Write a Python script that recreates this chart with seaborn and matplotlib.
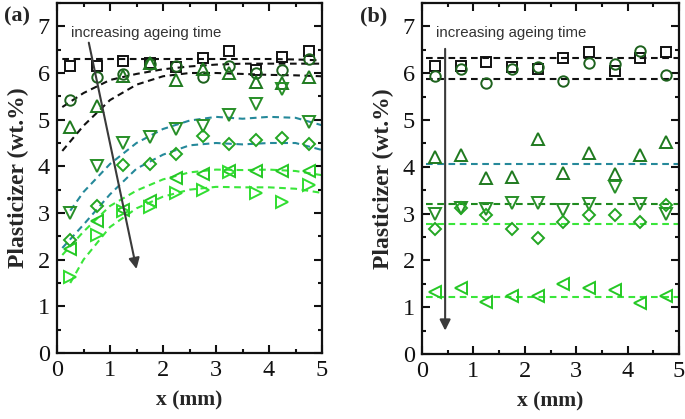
import numpy as np
import pandas as pd
import matplotlib
matplotlib.use("Agg")
import matplotlib.pyplot as plt
from matplotlib.ticker import MultipleLocator
import seaborn as sns

sns.set_theme(style="ticks")
plt.rcParams['font.family'] = ['Liberation Serif', 'DejaVu Serif']
plt.rcParams['mathtext.fontset'] = 'stix'

# ---------------- data ----------------
x_pts = [0.25, 0.75, 1.25, 1.75, 2.25, 2.75, 3.25, 3.75, 4.25, 4.75]

# panel (a)
a_square = [6.16, 6.15, 6.26, 6.21, 6.13, 6.32, 6.47, 6.06, 6.34, 6.47]
a_circle = [5.43, 5.91, 5.97, 6.20, 6.15, 5.91, 6.14, 6.00, 6.06, 6.31]
a_up     = [4.84, 5.29, 5.93, 6.21, 5.84, 6.09, 5.99, 5.81, 5.78, 5.91]
a_down   = [3.00, 4.00, 4.49, 4.63, 4.79, 4.86, 5.09, 5.34, 5.65, 4.95]
a_diam   = [2.42, 3.15, 4.02, 4.06, 4.27, 4.66, 4.47, 4.57, 4.61, 4.47]
a_left   = [2.23, 2.83, 3.06, 3.26, 3.74, 3.84, 3.90, 3.91, 3.91, 3.91]
a_right  = [1.63, 2.53, 3.05, 3.13, 3.43, 3.49, 3.88, 3.43, 3.24, 3.61]

# fitted (dashed) curves, panel (a)
fit_x = [0.1, 0.5, 1.0, 1.5, 2.0, 2.5, 3.0, 3.5, 4.0, 4.5, 5.0]
fit_x_late = [0.25, 0.5, 1.0, 1.5, 2.0, 2.5, 3.0, 3.5, 4.0, 4.5, 5.0]
fit_a_square = [6.30, 6.30, 6.30, 6.30, 6.30, 6.30, 6.30, 6.30, 6.30, 6.29, 6.27]
fit_a_circle = [5.27, 5.57, 5.85, 5.98, 6.08, 6.14, 6.18, 6.20, 6.20, 6.20, 6.20]
fit_a_up     = [4.33, 4.87, 5.42, 5.75, 5.93, 6.00, 6.00, 5.98, 5.96, 5.95, 5.93]
fit_a_down   = [3.05, 3.45, 4.05, 4.50, 4.80, 4.98, 5.06, 5.02, 5.06, 5.04, 4.88]
fit_a_diam   = [2.25, 2.75, 3.40, 3.95, 4.25, 4.45, 4.50, 4.47, 4.50, 4.50, 4.35]
fit_a_left   = [2.10, 2.60, 3.15, 3.48, 3.72, 3.87, 3.93, 3.92, 3.93, 3.90, 3.81]
fit_a_right  = [1.50, 2.00, 2.70, 3.10, 3.35, 3.50, 3.56, 3.55, 3.55, 3.52, 3.43]

# panel (b)
b_square = [6.16, 6.15, 6.25, 6.13, 6.09, 6.32, 6.46, 6.04, 6.33, 6.46]
b_circle = [5.93, 6.08, 5.79, 6.09, 6.13, 5.83, 6.22, 6.19, 6.47, 5.96]
b_up     = [4.21, 4.26, 3.75, 3.79, 4.59, 3.86, 4.29, 3.84, 4.26, 4.52]
b_down   = [3.00, 3.12, 3.10, 3.22, 3.22, 3.07, 3.21, 3.56, 3.21, 3.00]
b_diam   = [2.67, 3.12, 2.96, 2.67, 2.48, 2.82, 2.96, 2.98, 2.82, 3.19]
b_left   = [1.33, 1.40, 1.11, 1.23, 1.23, 1.50, 1.40, 1.36, 1.10, 1.24]

fit_b_x = [0.08, 5.0]
fit_b_square = [6.32, 6.32]
fit_b_circle = [5.88, 5.88]
fit_b_up     = [4.05, 4.05]
fit_b_down   = [3.21, 3.21]
fit_b_diam   = [2.78, 2.78]
fit_b_left   = [1.22, 1.22]

x_ticks = [0, 1, 2, 3, 4, 5]
y_ticks = [0, 1, 2, 3, 4, 5, 6, 7]

# ---------------- styles ----------------
C_SQ = '#111111'
C_CI = '#1d621d'
C_UP = '#1f7a1f'
C_DN = '#278f27'
C_DI = '#23a623'
C_LE = '#25c825'
C_RI = '#30dd30'
F_BLACK = '#111111'
F_TEAL = '#25899a'
F_BRIGHT = '#3ae63a'
F_DARK = '#1f8a1f'

MS = 7.5
MEW = 1.4

fig = plt.figure(figsize=(6.85, 4.19), dpi=100)
axa = fig.add_axes([57/685, 1-353/419, 265/685, 350/419])
axb = fig.add_axes([422/685, 1-354/419, 257/685, 351/419])


def draw_fit(ax, xs, ys, color):
    sns.lineplot(x=xs, y=ys, ax=ax, color=color, lw=1.5,
                 linestyle=(0, (3.2, 2.2)), sort=False, zorder=2)


def draw_pts(ax, xs, ys, marker, color, ms=MS):
    sns.lineplot(x=xs, y=ys, ax=ax, color=color, linestyle='', marker=marker,
                 markersize=ms, mfc='none', mec=color, mew=MEW, sort=False, zorder=3)


# panel a
draw_fit(axa, fit_x, fit_a_square, F_BLACK)
draw_fit(axa, fit_x, fit_a_circle, F_BLACK)
draw_fit(axa, fit_x, fit_a_up, F_BLACK)
draw_fit(axa, fit_x_late, fit_a_down, F_TEAL)
draw_fit(axa, fit_x, fit_a_diam, F_TEAL)
draw_fit(axa, fit_x, fit_a_left, F_BRIGHT)
draw_fit(axa, fit_x_late, fit_a_right, F_BRIGHT)

draw_pts(axa, x_pts, a_square, 's', C_SQ, MS - 0.3)
draw_pts(axa, x_pts, a_circle, 'o', C_CI)
draw_pts(axa, x_pts, a_up, '^', C_UP, MS + 0.5)
draw_pts(axa, x_pts, a_down, 'v', C_DN, MS + 0.5)
draw_pts(axa, x_pts, a_diam, 'D', C_DI, MS - 1)
draw_pts(axa, x_pts, a_left, '<', C_LE, MS + 0.5)
draw_pts(axa, x_pts, a_right, '>', C_RI, MS + 0.5)

# panel b
draw_fit(axb, fit_b_x, fit_b_square, F_BLACK)
draw_fit(axb, fit_b_x, fit_b_circle, F_BLACK)
draw_fit(axb, fit_b_x, fit_b_up, F_TEAL)
draw_fit(axb, fit_b_x, fit_b_down, F_DARK)
draw_fit(axb, fit_b_x, fit_b_diam, F_BRIGHT)
draw_fit(axb, fit_b_x, fit_b_left, F_BRIGHT)

draw_pts(axb, x_pts, b_square, 's', C_SQ, MS - 0.3)
draw_pts(axb, x_pts, b_circle, 'o', C_CI)
draw_pts(axb, x_pts, b_up, '^', C_UP, MS + 0.5)
draw_pts(axb, x_pts, b_down, 'v', C_DN, MS + 0.5)
draw_pts(axb, x_pts, b_diam, 'D', C_DI, MS - 1)
draw_pts(axb, x_pts, b_left, '<', C_LE, MS + 0.5)

# arrows and annotations
arrow_kw = dict(arrowstyle='-|>', color='#3a3a3a', lw=1.5, mutation_scale=16,
                shrinkA=0, shrinkB=0)
axa.annotate('', xy=(1.5, 1.8), xytext=(0.6, 6.65), arrowprops=arrow_kw, zorder=5)
axb.annotate('', xy=(0.45, 0.5), xytext=(0.45, 6.52), arrowprops=arrow_kw, zorder=5)
for ax in (axa, axb):
    ax.text(0.27, 6.86, 'increasing ageing time', family=['Liberation Sans', 'DejaVu Sans'],
            fontsize=10.8, color='#333333', ha='left', va='center', zorder=6)

for ax, lab, lx in ((axa, '(a)', -0.151), (axb, '(b)', -0.187)):
    ax.set_xlim(0, 5)
    ax.set_ylim(0, 7.5)
    ax.set_xticks(x_ticks)
    ax.set_yticks(y_ticks)
    ax.xaxis.set_minor_locator(MultipleLocator(0.5))
    ax.yaxis.set_minor_locator(MultipleLocator(0.5))
    ax.tick_params(which='both', direction='in', top=True, right=True, width=1.5,
                   labelsize=17.5, colors='#111111')
    ax.tick_params(which='major', length=6, pad=5)
    ax.tick_params(which='minor', length=3)
    for s in ax.spines.values():
        s.set_linewidth(1.6)
        s.set_color('#111111')
    ax.set_xlabel('x (mm)', fontsize=15.5, fontweight='bold', labelpad=7)
    ax.set_ylabel('Plasticizer (wt.%)', fontsize=17, fontweight='bold', labelpad=6)
    ax.text(lx, 0.99, lab, transform=ax.transAxes, fontsize=16, fontweight='bold',
            ha='center', va='top')

fig.savefig('out.png', dpi=100)
